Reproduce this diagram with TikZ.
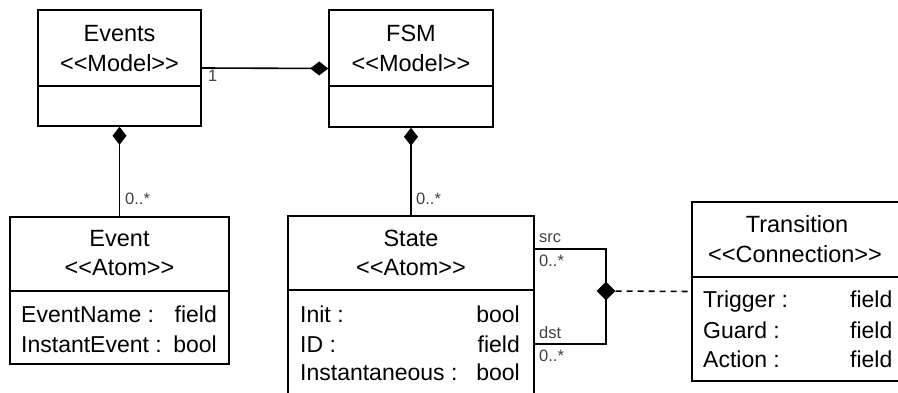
\documentclass[tikz,border=0pt]{standalone}
\usepackage{fontspec}
\setmainfont{Liberation Sans}
\usetikzlibrary{arrows.meta,shapes.geometric}
\begin{document}
\begin{tikzpicture}[x=1pt,y=-1pt,
  umlbox/.style={draw,line width=1.6pt,inner sep=0pt},
  conn/.style={line width=1.6pt},
  ttl/.style={anchor=base,inner sep=0pt,font=\fontsize{23.5}{27}\selectfont},
  attl/.style={anchor=base west,inner sep=0pt,font=\fontsize{23}{27}\selectfont},
  attr/.style={anchor=base east,inner sep=0pt,font=\fontsize{23}{27}\selectfont},
  lbl/.style={anchor=base west,inner sep=0pt,text=black!75,font=\fontsize{16.5}{19}\selectfont},
  comp/.style={conn,-{Diamond[length=18pt,width=14pt]}},
  junc/.style={diamond,fill=black,inner sep=0pt,minimum width=19pt,minimum height=19pt}]
\useasboundingbox (0,0) rectangle (898,393);
\clip (0,0) rectangle (898,393);
\fill[white] (0,0) rectangle (898,393);

% Events
\node[umlbox,minimum width=163pt,minimum height=116pt] (events) at (119.5,68) {};
\draw[conn] (events.west |- 0,86) -- (events.east |- 0,86);
\node[ttl] (eventsT) at (119.5,42) {Events};
\node[ttl] (eventsS) at (119.5,72) {<{}<Model>{}>};

% FSM
\node[umlbox,minimum width=164pt,minimum height=117pt] (fsm) at (411,68.5) {};
\draw[conn] (fsm.west |- 0,86) -- (fsm.east |- 0,86);
\node[ttl] (fsmT) at (411,42) {FSM};
\node[ttl] (fsmS) at (411,72) {<{}<Model>{}>};

% Event
\node[umlbox,minimum width=219pt,minimum height=147pt] (event) at (119.5,290.5) {};
\draw[conn] (event.west |- 0,291) -- (event.east |- 0,291);
\node[ttl] (eventT) at (119.5,247) {Event};
\node[ttl] (eventS) at (119.5,276) {<{}<Atom>{}>};
\node[attl] (ev1n) at (21,322) {EventName :};
\node[attr] (ev1v) at (217,322) {field};
\node[attl] (ev2n) at (21,352) {InstantEvent :};
\node[attr] (ev2v) at (217,352) {bool};

% State
\node[umlbox,minimum width=246pt,minimum height=200pt] (state) at (411,316) {};
\draw[conn] (state.west |- 0,290) -- (state.east |- 0,290);
\node[ttl] (stateT) at (411,247) {State};
\node[ttl] (stateS) at (411,276) {<{}<Atom>{}>};
\node[attl] (st1n) at (300,322) {Init :};
\node[attr] (st1v) at (520,322) {bool};
\node[attl] (st2n) at (300,352) {ID :};
\node[attr] (st2v) at (520,352) {field};
\node[attl] (st3n) at (300,380) {Instantaneous :};
\node[attr] (st3v) at (520,380) {bool};

% Transition
\node[umlbox,minimum width=210pt,minimum height=179pt] (trans) at (797,291.5) {};
\draw[conn] (trans.west |- 0,277) -- (trans.east |- 0,277);
\node[ttl] (trT) at (797,233) {Transition};
\node[ttl] (trS) at (795,262) {<{}<Connection>{}>};
\node[attl] (tr1n) at (703,308) {Trigger :};
\node[attl] (tr1v) at (850,308) {field};
\node[attl] (tr2n) at (703,338) {Guard :};
\node[attl] (tr2v) at (850,338) {field};
\node[attl] (tr3n) at (703,367) {Action :};
\node[attl] (tr3v) at (850,367) {field};

% Compositions
\draw[comp] (events.east) -- (fsm.west);
\draw[comp] (event.north) -- (events.south);
\draw[comp] (state.north) -- (fsm.south);
\node[lbl] (l1) at (208,82) {1};
\node[lbl] (l2) at (125,205) {0..*};
\node[lbl] (l3) at (416,205) {0..*};

% src / dst connection
\node[junc] (j) at (606,291) {};
\coordinate (srcS) at (state.east |- 0,249);
\coordinate (dstS) at (state.east |- 0,344);
\draw[conn] (srcS) -| (j.center);
\draw[conn] (dstS) -| (j.center);
\draw[conn,dashed,dash pattern=on 6pt off 5pt] (j) -- (trans.west);
\node[lbl] (l4) at (539,243) {src};
\node[lbl] (l5) at (539,266) {0..*};
\node[lbl] (l6) at (539,338) {dst};
\node[lbl] (l7) at (539,361) {0..*};
\end{tikzpicture}
\end{document}
